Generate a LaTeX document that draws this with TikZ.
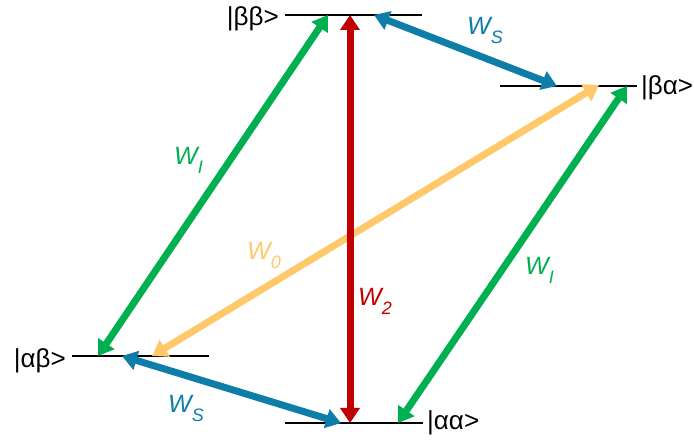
\documentclass[tikz,border=0pt]{standalone}
\usepackage{fontspec}
\setmainfont{Liberation Sans}
\usetikzlibrary{arrows.meta}
\definecolor{cgreen}{HTML}{00B050}
\definecolor{cred}{HTML}{C00000}
\definecolor{cblue}{HTML}{0E7DA8}
\definecolor{corange}{HTML}{FFC96B}
\newcommand\wsub[1]{\raisebox{-9pt}{\fontsize{18}{19}\selectfont #1}}
\begin{document}
\begin{tikzpicture}[x=1pt,y=-1pt,
  level/.style={line width=1.8pt,black},
  trans/.style={line width=7pt,{Triangle[length=15pt,width=19pt]}-{Triangle[length=15pt,width=19pt]}},
  statelbl/.style={inner sep=0pt,font=\fontsize{26}{28}\selectfont},
  wlbl/.style={inner sep=0pt,anchor=base west,font=\fontsize{25}{27}\selectfont\itshape}]
\useasboundingbox (0,0) rectangle (694,443);
% level end points
\coordinate (bbL) at (285,15);  \coordinate (bbR) at (422,15);
\coordinate (baL) at (500,86);  \coordinate (baR) at (637,86);
\coordinate (abL) at (72,356);  \coordinate (abR) at (209,356);
\coordinate (aaL) at (285,423); \coordinate (aaR) at (423,423);
\draw[level] (bbL) -- (bbR);
\draw[level] (baL) -- (baR);
\draw[level] (abL) -- (abR);
\draw[level] (aaL) -- (aaR);
% state labels
\node[statelbl,anchor=east] (sbb) at (279,19) {|ββ>};
\node[statelbl,anchor=west] (sba) at (641,88) {|βα>};
\node[statelbl,anchor=east] (sab) at (66,361) {|αβ>};
\node[statelbl,anchor=west] (saa) at (427,423) {|αα>};
% transition end points
\coordinate (g1a) at (328,15);  \coordinate (g1b) at (98,356);
\coordinate (r1a) at (350,15);  \coordinate (r1b) at (350,423);
\coordinate (b1a) at (374,15);  \coordinate (b1b) at (557,86);
\coordinate (o1a) at (599,85);  \coordinate (o1b) at (152,356);
\coordinate (g2a) at (627,86);  \coordinate (g2b) at (398,423);
\coordinate (b2a) at (122,356); \coordinate (b2b) at (341,423);
% transitions
\draw[trans,corange] (o1a) -- (o1b);
\draw[trans,cgreen] (g1a) -- (g1b);
\draw[trans,cgreen] (g2a) -- (g2b);
\draw[trans,cblue] (b1a) -- (b1b);
\draw[trans,cblue] (b2a) -- (b2b);
\draw[trans,cred] (r1a) -- (r1b);
% labels
\node[wlbl,text=cgreen] (lg1) at (174,165) {W\wsub{I}};
\node[wlbl,text=cblue] (lb1) at (467,35) {W\wsub{S}};
\node[wlbl,text=corange] (lo1) at (247,260) {W\wsub{0}};
\node[wlbl,text=cred] (lr1) at (358,306) {W\wsub{2}};
\node[wlbl,text=cgreen] (lg2) at (525,275) {W\wsub{I}};
\node[wlbl,text=cblue] (lb2) at (168,413) {W\wsub{S}};
\end{tikzpicture}
\end{document}
